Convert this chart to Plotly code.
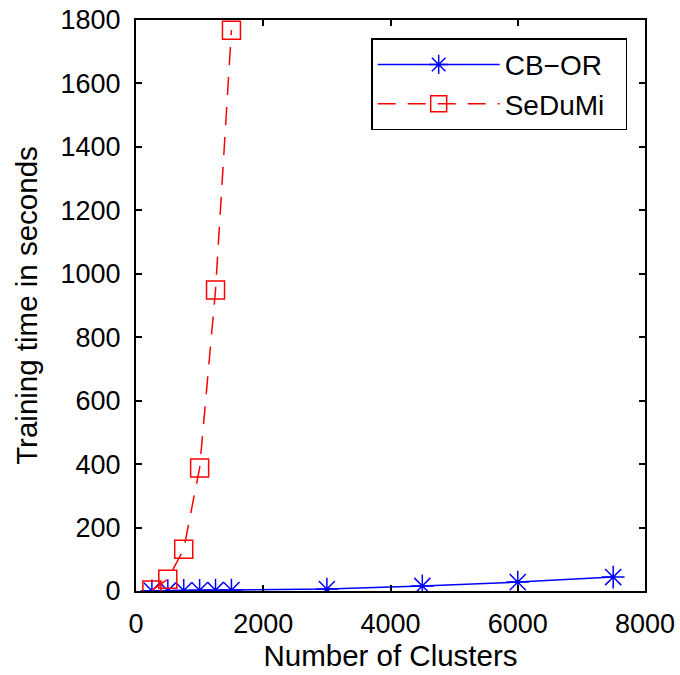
import plotly.graph_objects as go

cb_x = [250, 500, 750, 1000, 1250, 1500, 3000, 4500, 6000, 7500]
cb_y = [0.5, 1, 1.5, 2, 2.5, 3, 6, 16, 28, 44]
sd_x = [250, 500, 750, 1000, 1250, 1500]
sd_y = [3, 37, 132, 388, 949, 1768]

x_ticks = [0, 2000, 4000, 6000, 8000]
y_ticks = [0, 200, 400, 600, 800, 1000, 1200, 1400, 1600, 1800]

series_names = ["CB\u2212OR\u00a0\u00a0", "SeDuMi\u00a0\u00a0"]

FONT = "Liberation Sans, Arial, Helvetica"

fig = go.Figure()
fig.add_trace(go.Scatter(
    x=cb_x, y=cb_y, name=series_names[0], mode="lines+markers",
    line=dict(color="blue", width=1.5),
    marker=dict(symbol="asterisk-open", size=19, line=dict(color="blue", width=1.5)),
))
fig.add_trace(go.Scatter(
    x=sd_x, y=sd_y, name=series_names[1], mode="lines+markers",
    line=dict(color="red", width=1.5, dash="18px,12px"),
    marker=dict(symbol="square-open", size=18, color="red", line=dict(color="red", width=1.5)),
))

axis_common = dict(
    showline=True, linecolor="black", linewidth=2, mirror="ticks",
    ticks="inside", ticklen=6, tickcolor="black", tickwidth=1.5,
    showgrid=False, zeroline=False, ticklabeloverflow="allow", automargin=False,
    tickfont=dict(size=27, color="black", family=FONT),
)

fig.update_xaxes(range=[0, 8000], tickvals=x_ticks, ticktext=[str(v) for v in x_ticks],
                 ticklabelstandoff=8,
                 title=dict(text="Number of Clusters", font=dict(size=29.5, color="black", family=FONT), standoff=6),
                 **axis_common)
fig.update_yaxes(range=[0, 1800], tickvals=y_ticks, ticktext=[str(v) for v in y_ticks],
                 ticklabelstandoff=8,
                 title=dict(text="Training time in seconds", font=dict(size=29.5, color="black", family=FONT), standoff=14),
                 **axis_common)

fig.update_layout(
    width=680, height=675,
    margin=dict(l=136, r=35, t=20, b=84, autoexpand=False),
    plot_bgcolor="white", paper_bgcolor="white",
    font=dict(family=FONT, color="black"),
    showlegend=True,
    legend=dict(x=0.965, y=0.968, xanchor="right", yanchor="top",
                bordercolor="black", borderwidth=1.5, bgcolor="white",
                font=dict(size=28, color="black", family=FONT), itemwidth=122,
                tracegroupgap=0),
)

fig.write_html("out.html", config={"displayModeBar": False},
               post_script="document.body.style.margin='0px';document.body.style.overflow='hidden';")
